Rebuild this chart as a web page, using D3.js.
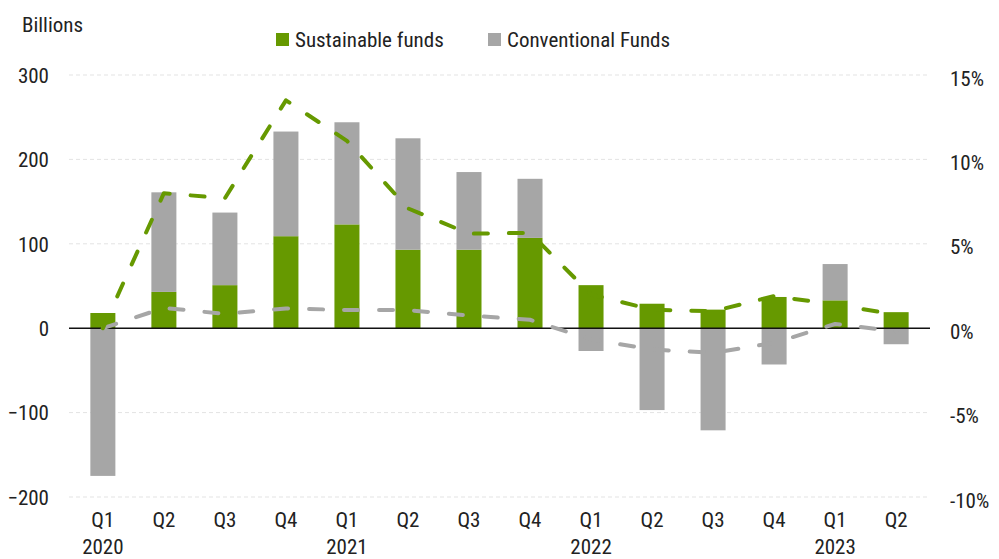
<!DOCTYPE html>
<html>
<head>
<meta charset="utf-8">
<script src="https://cdn.jsdelivr.net/npm/d3@7"></script>
<style>
  body { margin: 0; background: #fff; }
  svg text { font-family: "Roboto Condensed", "Liberation Sans", sans-serif; fill: #222; }
</style>
</head>
<body>
<div id="chart"></div>
<script>
// quarters and their year labels
var quarters = ["Q1", "Q2", "Q3", "Q4", "Q1", "Q2", "Q3", "Q4", "Q1", "Q2", "Q3", "Q4", "Q1", "Q2"];
var years = ["2020", "", "", "", "2021", "", "", "", "2022", "", "", "", "2023", ""];

// flows, billions
var sustainableFlows = [18, 43, 51, 109, 123, 93, 93, 107, 51, 29, 22, 37, 33, 19];
var conventionalFlows = [-175, 118, 86, 124, 121, 132, 92, 70, -27, -97, -121, -43, 43, -19];

// organic growth rates, %
var sustainableRate = [0, 8.0, 7.7, 13.5, 11.1, 7.1, 5.6, 5.65, 2.0, 1.1, 1.0, 1.9, 1.4, 0.8];
var conventionalRate = [0, 1.2, 0.85, 1.17, 1.08, 1.07, 0.75, 0.5, -0.67, -1.26, -1.46, -0.87, 0.25, -0.18];

var leftTicks = [-200, -100, 0, 100, 200, 300];
var rightTicks = [-10, -5, 0, 5, 10, 15];

var green = "#669900";
var grey = "#a6a6a6";
var fontSize = "21px";

var width = 999, height = 559;
var margins = { top: 75, right: 69, bottom: 62, left: 69 };

var svg = d3.select("#chart").append("svg")
  .attr("width", width)
  .attr("height", height);

var idx = d3.range(quarters.length);

var scaleX = d3.scaleBand()
  .domain(idx)
  .range([margins.left, width - margins.right])
  .paddingInner(0.59)
  .paddingOuter(0.35);

var scaleY = d3.scaleLinear()
  .domain([-200, 300])
  .range([height - margins.bottom, margins.top]);

var scaleY2 = d3.scaleLinear()
  .domain([-10, 15])
  .range([height - margins.bottom, margins.top]);

// gridlines
svg.append("g")
  .selectAll("line")
  .data(leftTicks.filter(function (d) { return d !== 0; }))
  .enter().append("line")
  .attr("x1", margins.left)
  .attr("x2", width - margins.right)
  .attr("y1", function (d) { return scaleY(d); })
  .attr("y2", function (d) { return scaleY(d); })
  .attr("stroke", "#e3e3e3")
  .attr("stroke-width", 1)
  .attr("stroke-dasharray", "4,3");

// left axis
var yAxis = svg.append("g")
  .attr("transform", "translate(" + (margins.left - 20) + ",0)")
  .call(d3.axisLeft(scaleY).tickValues(leftTicks).tickSize(0).tickPadding(0));
yAxis.select(".domain").remove();
yAxis.selectAll("text").style("font-size", fontSize).attr("dy", "0.35em");

// right axis
var yAxis2 = svg.append("g")
  .attr("transform", "translate(" + (width - margins.right + 20) + ",0)")
  .call(d3.axisRight(scaleY2).tickValues(rightTicks).tickSize(0).tickPadding(0)
    .tickFormat(function (d) { return d + "%"; }));
yAxis2.select(".domain").remove();
yAxis2.selectAll("text").style("font-size", fontSize).attr("dy", "0.48em");

// stacked bars: positives stack up from zero, negatives down
var stacked = idx.map(function (i) {
  var s = sustainableFlows[i], c = conventionalFlows[i];
  var segs = [];
  var pos = 0, neg = 0;
  [[s, green], [c, grey]].forEach(function (p) {
    var v = p[0];
    if (v >= 0) { segs.push({ i: i, y0: pos, y1: pos + v, color: p[1] }); pos += v; }
    else { segs.push({ i: i, y0: neg + v, y1: neg, color: p[1] }); neg += v; }
  });
  return segs;
});

svg.append("g")
  .selectAll("rect")
  .data(d3.merge(stacked))
  .enter().append("rect")
  .attr("x", function (d) { return scaleX(d.i); })
  .attr("width", scaleX.bandwidth())
  .attr("y", function (d) { return scaleY(d.y1); })
  .attr("height", function (d) { return scaleY(d.y0) - scaleY(d.y1); })
  .attr("fill", function (d) { return d.color; });

// zero line
svg.append("line")
  .attr("x1", margins.left)
  .attr("x2", width - margins.right)
  .attr("y1", scaleY(0))
  .attr("y2", scaleY(0))
  .attr("stroke", "#111")
  .attr("stroke-width", 1.4);

// dashed rate lines
var line = d3.line()
  .x(function (d, i) { return scaleX(i) + scaleX.bandwidth() / 2; })
  .y(function (d) { return scaleY2(d); });

[[conventionalRate, grey], [sustainableRate, green]].forEach(function (p) {
  svg.append("path")
    .attr("d", line(p[0]))
    .attr("fill", "none")
    .attr("stroke", p[1])
    .attr("stroke-width", 4)
    .attr("stroke-linecap", "round")
    .attr("stroke-linejoin", "round")
    .attr("stroke-dasharray", "14,21");
});

// x labels
var xl = svg.append("g");
xl.selectAll("text.q")
  .data(quarters)
  .enter().append("text")
  .attr("class", "q")
  .attr("x", function (d, i) { return scaleX(i) + scaleX.bandwidth() / 2; })
  .attr("y", 527)
  .attr("text-anchor", "middle")
  .style("font-size", fontSize)
  .text(function (d) { return d; });
xl.selectAll("text.yr")
  .data(years)
  .enter().append("text")
  .attr("class", "yr")
  .attr("x", function (d, i) { return scaleX(i) + scaleX.bandwidth() / 2; })
  .attr("y", 554)
  .attr("text-anchor", "middle")
  .style("font-size", fontSize)
  .text(function (d) { return d; });

// unit label
svg.append("text")
  .attr("x", 22)
  .attr("y", 32)
  .style("font-size", fontSize)
  .text("Billions");

// legend
var legendItems = [
  { name: "Sustainable funds", color: green, x: 276 },
  { name: "Conventional Funds", color: grey, x: 488 }
];
var legend = svg.append("g").selectAll("g")
  .data(legendItems)
  .enter().append("g")
  .attr("transform", function (d) { return "translate(" + d.x + ",33)"; });
legend.append("rect")
  .attr("width", 13)
  .attr("height", 13)
  .attr("fill", function (d) { return d.color; });
legend.append("text")
  .attr("x", 19)
  .attr("y", 14)
  .style("font-size", fontSize)
  .text(function (d) { return d.name; });
</script>
</body>
</html>
